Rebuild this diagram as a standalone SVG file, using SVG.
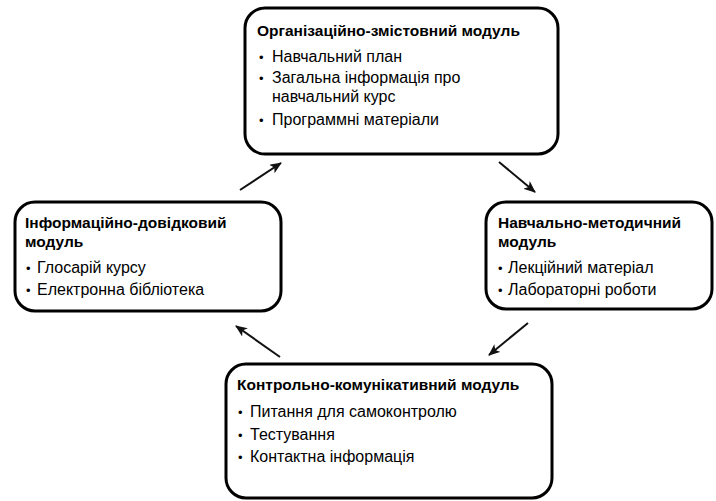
<svg xmlns="http://www.w3.org/2000/svg" width="716" height="501" viewBox="0 0 716 501">
<defs>
<style>
.box{fill:#ffffff;stroke:#000000;stroke-width:3}
.t{font-family:"Liberation Sans",Arial,sans-serif;font-size:15.5px;font-weight:bold;fill:#000}
.i{font-family:"Liberation Sans",Arial,sans-serif;font-size:16px;fill:#000}
.b{font-family:"Liberation Sans",Arial,sans-serif;font-size:13px;fill:#000}
.c{fill:none;stroke:#111;stroke-width:2}
</style>
<marker id="ah" viewBox="0 0 12 10" refX="11" refY="5" markerWidth="12" markerHeight="10" markerUnits="userSpaceOnUse" orient="auto">
<path d="M0,0 L12,5 L0,10 L3,5 Z" fill="#111"/>
</marker>
</defs>
<rect width="716" height="501" fill="#ffffff"/>
<g id="node-org">
<rect class="box" x="245" y="8" width="313" height="146" rx="20"/>
<text class="t" x="257" y="36">Організаційно-змістовний модуль</text>
<text class="b" x="259" y="62">•</text><text class="i" x="272" y="62">Навчальний план</text>
<text class="b" x="259" y="83">•</text><text class="i" x="272" y="83">Загальна інформація про</text>
<text class="i" x="272" y="102">навчальний курс</text>
<text class="b" x="259" y="125">•</text><text class="i" x="272" y="125">Программні матеріали</text>
</g>
<g id="node-info">
<rect class="box" x="15" y="202" width="266" height="109" rx="20"/>
<text class="t" x="25" y="228">Інформаційно-довідковий</text>
<text class="t" x="25" y="247">модуль</text>
<text class="b" x="26" y="273">•</text><text class="i" x="37" y="273">Глосарій курсу</text>
<text class="b" x="26" y="295">•</text><text class="i" x="37" y="295">Електронна бібліотека</text>
</g>
<g id="node-method">
<rect class="box" x="486" y="202" width="226" height="107" rx="20"/>
<text class="t" x="498" y="228">Навчально-методичний</text>
<text class="t" x="498" y="247">модуль</text>
<text class="b" x="498" y="273">•</text><text class="i" x="508" y="273">Лекційний матеріал</text>
<text class="b" x="498" y="295">•</text><text class="i" x="508" y="295">Лабораторні роботи</text>
</g>
<g id="node-control">
<rect class="box" x="226" y="364" width="326" height="134" rx="20"/>
<text class="t" x="237" y="390">Контрольно-комунікативний модуль</text>
<text class="b" x="238" y="417">•</text><text class="i" x="250" y="417">Питання для самоконтролю</text>
<text class="b" x="238" y="440">•</text><text class="i" x="250" y="440">Тестування</text>
<text class="b" x="238" y="462">•</text><text class="i" x="250" y="462">Контактна інформація</text>
</g>
<g id="connectors">
<line class="c" x1="240" y1="190" x2="281" y2="163" marker-end="url(#ah)"/>
<line class="c" x1="499" y1="162" x2="535" y2="192" marker-end="url(#ah)"/>
<line class="c" x1="528" y1="323" x2="489" y2="355" marker-end="url(#ah)"/>
<line class="c" x1="280" y1="357" x2="236" y2="326" marker-end="url(#ah)"/>
</g>
</svg>
